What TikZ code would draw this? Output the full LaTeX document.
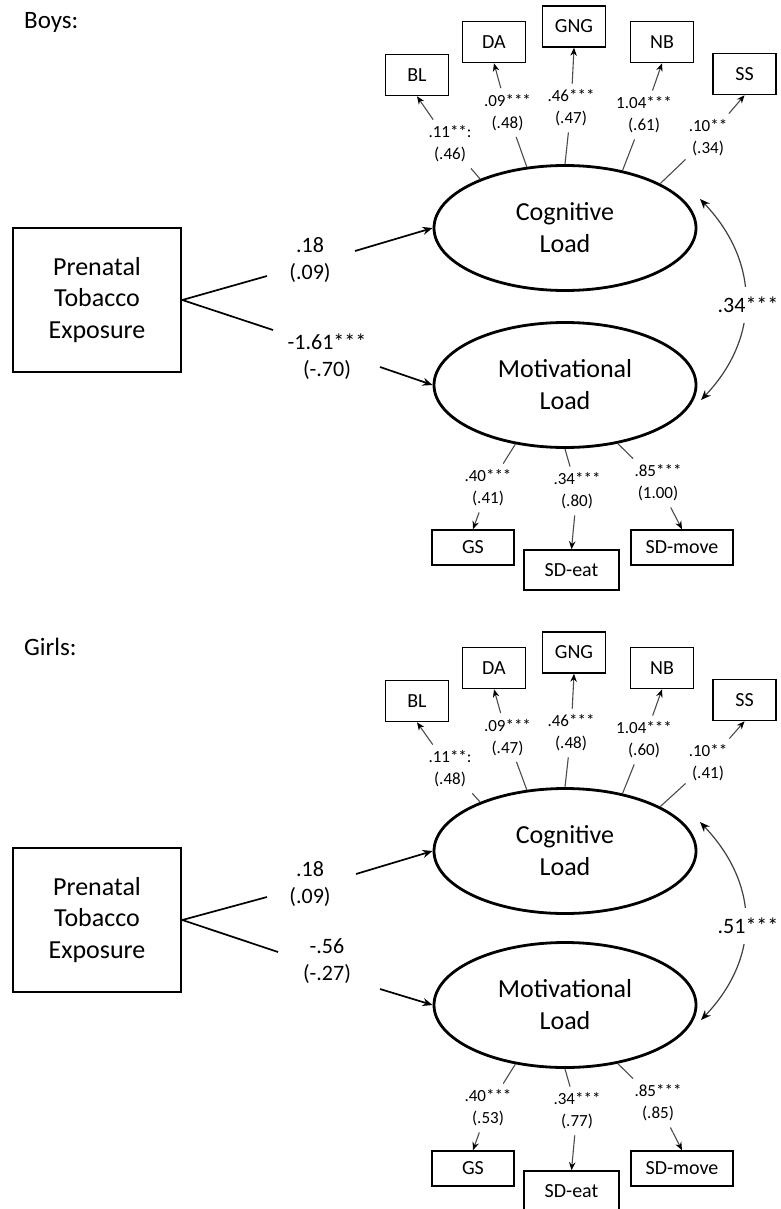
\documentclass[tikz,border=0pt]{standalone}
\usepackage{fontspec}
\setmainfont{Carlito}
\usetikzlibrary{arrows.meta,calc,shapes.geometric}
\tikzset{
 ttl/.style={anchor=west, inner sep=0pt, font=\fontsize{25}{30}\selectfont},
 expo/.style={draw, line width=2.6pt, minimum width=168pt, minimum height=144pt, inner sep=0pt, align=center, font=\fontsize{26}{31.5}\selectfont},
 lat/.style={draw, ellipse, line width=2.8pt, minimum width=262pt, minimum height=125pt, inner sep=0pt, align=center, font=\fontsize{26}{32}\selectfont},
 ind/.style={draw, line width=1.6pt, minimum width=63pt, minimum height=41pt, inner sep=0pt, font=\fontsize{20}{24}\selectfont},
 coef/.style={align=center, inner xsep=3pt, inner ysep=6pt, font=\fontsize{17}{22}\selectfont},
 pcoef/.style={align=center, inner sep=0pt, font=\fontsize{22}{27}\selectfont},
 load/.style={line width=1.1pt, draw=black!70},
 loadarr/.style={load, -{Stealth[length=8pt,width=6.5pt,color=black]}},
 regline/.style={line width=1.7pt},
 regarr/.style={regline, -{Stealth[length=10pt,width=8pt]}},
 corr/.style={line width=1.2pt, draw=black!75, {Stealth[length=10pt,width=8pt,color=black]}-{Stealth[length=10pt,width=8pt,color=black]}},
 corrlab/.style={fill=white, inner xsep=2pt, inner ysep=10pt, font=\fontsize{22}{27}\selectfont},
}
\begin{document}
\begin{tikzpicture}[x=1pt,y=-1pt]
\clip (0,0) rectangle (780,1209);
\fill[white] (0,0) rectangle (780,1209);

% ================= Boys =================
\node[ttl] (bt) at (24,22) {Boys:};
\node[expo] (bpte) at (97,300) {Prenatal\\Tobacco\\Exposure};
\node[lat] (bcog) at (565,228) {Cognitive\\Load};
\node[lat] (bmot) at (565,385) {Motivational\\Load};

\node[ind] (bBL) at (417,75) {BL};
\node[ind] (bDA) at (494,42) {DA};
\node[ind] (bGNG) at (574,26.5) {GNG};
\node[ind] (bNB) at (662,42) {NB};
\node[ind] (bSS) at (744.5,74) {SS};

\node[coef] (bcBL) at (450,144) {.11**:\\(.46)};
\node[coef] (bcDA) at (507.5,112.5) {.09***\\(.48)};
\node[coef] (bcGNG) at (571,108) {.46***\\(.47)};
\node[coef] (bcNB) at (644,115) {1.04***\\(.61)};
\node[coef] (bcSS) at (708,138) {.10**\\(.34)};

\foreach \i/\a in {BL/150, DA/122, GNG/90, NB/45, SS/25}{
  \draw[load] (bcog.\a) -- (bc\i);
  \draw[loadarr] (bc\i) -- (b\i.south);
}

\node[ind, minimum width=82pt, minimum height=35pt] (bGS) at (473,547.5) {GS};
\node[ind, minimum width=95pt, minimum height=40pt] (bSDe) at (571.5,570) {SD-eat};
\node[ind, minimum width=102pt, minimum height=35pt] (bSDm) at (682,547.5) {SD-move};

\node[coef] (bcGS) at (488,488) {.40***\\(.41)};
\node[coef] (bcSDe) at (577,491) {.34***\\(.80)};
\node[coef] (bcSDm) at (658,483) {.85***\\(1.00)};

\foreach \i/\a in {GS/230, SDe/270, SDm/312}{
  \draw[load] (bmot.\a) -- (bc\i);
  \draw[loadarr] (bc\i) -- (b\i.north);
}

\node[pcoef] (bp1) at (310,260) {.18\\(.09)};
\node[pcoef] (bp2) at (327,357) {-1.61***\\(-.70)};
\coordinate (bp1a) at (267,276);
\coordinate (bp1b) at (355,251);
\coordinate (bp2a) at (273,330);
\coordinate (bp2b) at (380,367);
\draw[regline] (bpte.east) -- (bp1a);
\draw[regarr] (bp1b) -- (bcog.west);
\draw[regline] (bpte.east) -- (bp2a);
\draw[regarr] (bp2b) -- (bmot.west);

\coordinate (bct) at (700,199);
\coordinate (bcb) at (701,400);
\draw[corr] (bct) .. controls (760,262) and (760,338) .. (bcb);
\node[corrlab] (bcr) at (748,305) {.34***};

% ================= Girls =================
\node[ttl] (gt) at (24,647) {Girls:};
\node[expo] (gpte) at (97,920) {Prenatal\\Tobacco\\Exposure};
\node[lat] (gcog) at (565,851) {Cognitive\\Load};
\node[lat] (gmot) at (565,1005) {Motivational\\Load};

\node[ind] (gBL) at (417,701) {BL};
\node[ind] (gDA) at (494,668) {DA};
\node[ind] (gGNG) at (574,652.5) {GNG};
\node[ind] (gNB) at (662,668) {NB};
\node[ind] (gSS) at (744.5,700) {SS};

\node[coef] (gcBL) at (450,769) {.11**:\\(.48)};
\node[coef] (gcDA) at (507.5,737.5) {.09***\\(.47)};
\node[coef] (gcGNG) at (571,733) {.46***\\(.48)};
\node[coef] (gcNB) at (644,740) {1.04***\\(.60)};
\node[coef] (gcSS) at (708,763) {.10**\\(.41)};

\foreach \i/\a in {BL/150, DA/122, GNG/90, NB/45, SS/25}{
  \draw[load] (gcog.\a) -- (gc\i);
  \draw[loadarr] (gc\i) -- (g\i.south);
}

\node[ind, minimum width=82pt, minimum height=35pt] (gGS) at (473,1168.5) {GS};
\node[ind, minimum width=95pt, minimum height=40pt] (gSDe) at (571.5,1191) {SD-eat};
\node[ind, minimum width=102pt, minimum height=35pt] (gSDm) at (682,1168.5) {SD-move};

\node[coef] (gcGS) at (488,1108) {.40***\\(.53)};
\node[coef] (gcSDe) at (577,1111) {.34***\\(.77)};
\node[coef] (gcSDm) at (658,1103) {.85***\\(.85)};

\foreach \i/\a in {GS/230, SDe/270, SDm/312}{
  \draw[load] (gmot.\a) -- (gc\i);
  \draw[loadarr] (gc\i) -- (g\i.north);
}

\node[pcoef] (gp1) at (310,884) {.18\\(.09)};
\node[pcoef] (gp2) at (327,961) {-.56\\(-.27)};
\coordinate (gp1a) at (267,897);
\coordinate (gp1b) at (356,874);
\coordinate (gp2a) at (278,952);
\coordinate (gp2b) at (380,989);
\draw[regline] (gpte.east) -- (gp1a);
\draw[regarr] (gp1b) -- (gcog.west);
\draw[regline] (gpte.east) -- (gp2a);
\draw[regarr] (gp2b) -- (gmot.west);

\coordinate (gct) at (700,822);
\coordinate (gcb) at (701,1020);
\draw[corr] (gct) .. controls (760,885) and (760,958) .. (gcb);
\node[corrlab] (gcr) at (748,926) {.51***};
\end{tikzpicture}
\end{document}
